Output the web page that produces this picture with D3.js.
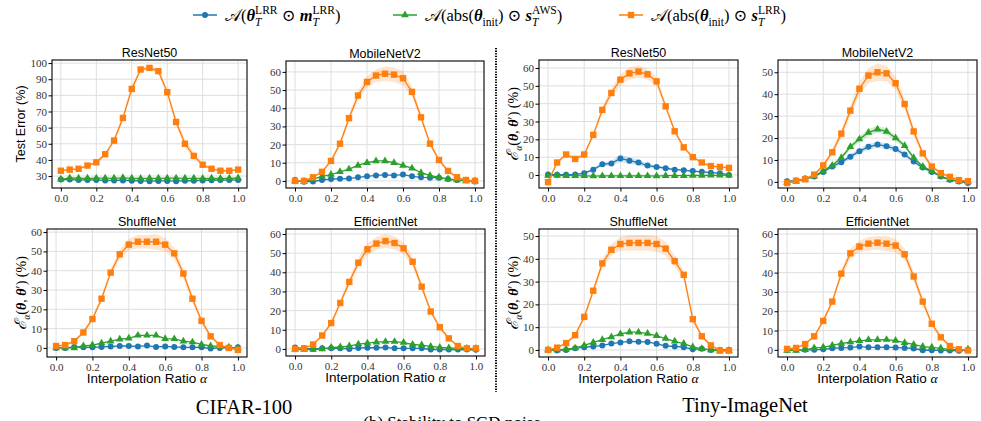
<!DOCTYPE html>
<html>
<head>
<meta charset="utf-8">
<script src="https://cdn.jsdelivr.net/npm/d3@7"></script>
<style>
  body { margin: 0; background: #fff; }
</style>
</head>
<body>
<svg id="fig" width="981" height="421"></svg>
<script>
// interpolation ratios on the x axis
const ratio = [0, 0.05, 0.1, 0.15, 0.2, 0.25, 0.3, 0.35, 0.4, 0.45, 0.5, 0.55, 0.6, 0.65, 0.7, 0.75, 0.8, 0.85, 0.9, 0.95, 1]

// CIFAR-100
const c100ResNet50 = {
  lrr:  [27.8, 27.8, 27.6, 27.6, 27.6, 27.2, 27.3, 27.3, 27.1, 27.0, 26.8, 27.0, 27.0, 26.8, 27.1, 27.1, 27.3, 27.4, 27.5, 27.5, 27.6],
  aws:  [28.0, 28.8, 28.7, 28.6, 28.7, 28.7, 28.6, 28.9, 28.6, 28.5, 28.6, 28.6, 28.7, 28.7, 28.6, 28.6, 28.5, 28.6, 28.5, 28.6, 28.8],
  swap: [33.3, 34, 34.5, 36.5, 38.5, 43.5, 52, 66, 84, 96, 97, 95, 82, 63.5, 50, 42.5, 37, 34.5, 33.3, 33.3, 34],
  swapBand: [0.5, 0.5, 0.5, 0.8, 1, 1.2, 1.5, 2, 2.5, 1.5, 1, 1.5, 2, 2.5, 2.5, 2, 1, 0.8, 0.5, 0.5, 0.5]
}
const c100MobileNetV2 = {
  lrr:  [0.5, -0.5, -0.3, 0.5, 1, 1.2, 1.3, 2, 2.5, 3, 3.3, 3, 3.5, 2.5, 2, 1.8, 1.8, 1, 0.5, 0.3, -0.3],
  aws:  [0, -0.3, 1, 2.5, 3.5, 5, 6.5, 8.5, 10, 11, 11, 10, 8.5, 7, 4.5, 3, 2, 1, 0.5, 0, 0],
  swap: [0, 0, 2, 5, 11, 20.5, 34.5, 47, 54.5, 58, 59, 58.5, 56.5, 49, 35, 20.5, 11.5, 5.5, 2, 0.5, 0],
  swapBand: [0.3, 0.3, 0.5, 0.8, 1, 1.5, 2, 2.5, 3, 3.5, 4, 4, 4, 3, 2, 1.5, 1, 0.8, 0.5, 0.3, 0.3]
}
const c100ShuffleNet = {
  lrr:  [0, 0, 0.5, 0.3, 0.3, 0.5, 0.8, 1, 1, 0.8, 1.2, 0.5, 0.8, 0.5, 0.3, 0.3, 0.3, -0.3, 0, 0, 0.3],
  aws:  [0, 0, 0, 1, 1.5, 2.5, 3.5, 4.5, 5, 6.5, 6.5, 6.5, 4.8, 4.7, 3.5, 3, 1.8, 1, 0.8, 0.3, 0],
  swap: [1, 1.5, 3.5, 8, 15, 25.5, 39, 48.5, 53.5, 55, 55, 55, 53.5, 49, 38.5, 25.5, 14, 6, 1.5, 0, -1],
  swapBand: [0.5, 0.5, 0.8, 1, 1.2, 1.5, 2, 2.5, 3, 3.5, 3.5, 4, 3.5, 3, 2.5, 2, 1.5, 1, 0.5, 0.5, 0.5]
}
const c100EfficientNet = {
  lrr:  [0.7, 0.3, 0, 0.3, 0.3, 0.3, 0, 0.5, 0.6, 0.6, 0.8, 0.3, 0.3, 0.3, 0.3, -0.3, -0.3, -0.3, -0.3, -0.3, -0.5],
  aws:  [-0.3, -0.3, -0.3, 0, 0.7, 1, 1.5, 2.5, 3, 3.5, 3.8, 3.8, 3.3, 2.3, 2, 1.3, 0.8, 0.5, 0.3, 0.2, 0.2],
  swap: [0, 0.3, 2.3, 7, 13.5, 24, 35, 45, 52, 55, 56.3, 55.3, 52.5, 45.5, 32.5, 19.5, 11.3, 5.5, 1.5, 0.3, 0.3],
  swapBand: [0.3, 0.3, 0.5, 0.8, 1, 1.5, 2, 2.5, 3, 3.5, 3.5, 3.5, 3, 2.5, 2, 1.5, 1, 0.8, 0.5, 0.3, 0.3]
}

// Tiny-ImageNet
const tinResNet50 = {
  lrr:  [0.3, 0.2, 0.2, 0.3, 1, 3, 6, 6.5, 9.3, 8, 7, 5.3, 4.5, 3.8, 3, 2.7, 2.2, 1.8, 1.3, 1, 0],
  aws:  [-0.3, -0.3, -0.4, -0.4, -0.5, -0.6, -0.5, -0.5, -0.5, -0.5, -0.5, -0.5, -0.6, -0.4, -0.4, -0.4, -0.3, -0.3, -0.2, -0.2, -0.1],
  swap: [-4, 7, 11.5, 9, 11.5, 22.5, 36.5, 46, 53.5, 57, 58, 56.5, 52.5, 38.5, 24.5, 15.5, 10, 7, 5, 4.5, 4],
  swapBand: [0.5, 0.8, 1, 1, 1, 1.5, 2, 2.5, 3, 3.5, 3.5, 3, 2.5, 2, 1.5, 1, 1, 0.8, 0.5, 0.5, 0.5],
  lrrBand: [0.3, 0.3, 0.3, 0.3, 0.5, 0.8, 1, 1.3, 2, 1.8, 1.5, 1.2, 1, 0.8, 0.7, 0.6, 0.5, 0.5, 0.4, 0.4, 0.3]
}
const tinMobileNetV2 = {
  lrr:  [0.3, 0.5, 1.5, 2.5, 4.5, 7, 9, 11.5, 14, 16, 17, 16.3, 15, 12.5, 9.3, 6.5, 4.5, 2.5, 1, 0.2, -0.5],
  aws:  [-0.3, 0.3, 1.2, 2.5, 5, 7.5, 11, 16, 19.5, 22.5, 24, 23, 20, 16.5, 11, 7, 5, 2.5, 1, 0.3, 0],
  swap: [-0.5, 0.5, 1.2, 3.3, 7.5, 13.5, 22, 32.5, 42.5, 48.5, 50, 49.5, 45, 35.5, 23, 13, 7, 4, 2.3, 0.8, 0.3],
  swapBand: [0.3, 0.3, 0.5, 0.8, 1, 1.5, 2, 2.5, 3, 3.5, 4, 3.5, 3, 2.5, 2, 1.5, 1, 0.8, 0.5, 0.3, 0.3],
  lrrBand: [0.3, 0.3, 0.4, 0.5, 0.6, 0.8, 1, 1.1, 1.2, 1.3, 1.4, 1.3, 1.2, 1, 0.8, 0.7, 0.5, 0.4, 0.3, 0.3, 0.3],
  awsBand: [0.3, 0.3, 0.4, 0.5, 0.6, 0.8, 1, 1.2, 1.4, 1.6, 1.6, 1.5, 1.3, 1.1, 0.9, 0.7, 0.5, 0.4, 0.3, 0.3, 0.3]
}
const tinShuffleNet = {
  lrr:  [0, -0.2, 0, 0.7, 1.2, 1.5, 2, 2.8, 3.3, 3.8, 3.6, 3.5, 2.7, 1.8, 1.5, 1.2, 0.3, 0.5, 0, 0, 0],
  aws:  [0, 0, 0.3, 0.8, 2, 3.3, 4.5, 5.7, 7, 7.8, 7.8, 7.2, 6.2, 5, 3.8, 2.8, 1.3, 0.5, 0, -0.5, -0.3],
  swap: [0, 1, 3, 6.5, 14.5, 26, 38, 44, 46.5, 47, 47, 47, 46.5, 44.5, 39, 33, 13.5, 6, 2, -0.3, -0.3],
  swapBand: [0.3, 0.3, 0.5, 0.8, 1, 1.5, 2, 2.5, 3, 3.5, 3.5, 3.5, 3.5, 3, 2.5, 2, 1.5, 1, 0.5, 0.3, 0.3]
}
const tinEfficientNet = {
  lrr:  [0, 0, 0, 0, 0.3, 0.8, 1, 1.2, 1.7, 1.3, 1.3, 1.4, 1.2, 1, 0.7, -0.2, -0.2, -0.3, -0.3, -0.5, 0],
  aws:  [-0.3, -0.3, 0, 1, 1.3, 2.3, 3.3, 4, 4.7, 5.2, 5.2, 5.3, 4.8, 3.7, 2.8, 1.7, 1.3, 0.8, 0.3, 0, 0.3],
  swap: [0.5, 1, 3, 7, 15, 25, 39.5, 50, 53.5, 55, 55.5, 55, 54, 49.5, 38, 25, 13.5, 6.5, 2, 0.3, -0.3],
  swapBand: [0.3, 0.5, 0.5, 0.8, 1, 1.5, 2, 2.5, 3, 3.5, 3.5, 4, 3.5, 3, 2.5, 2, 1.5, 1, 0.5, 0.3, 0.3]
}

const xTicks = [0, 0.2, 0.4, 0.6, 0.8, 1.0]
const colors = { lrr: '#1f77b4', aws: '#2ca02c', swap: '#ff7f0e' }

const serif = "'Liberation Serif', 'DejaVu Serif', serif"
const sans = "'Liberation Sans', 'DejaVu Sans', sans-serif"

const svg = d3.select('#fig')

// write a row of text pieces with sub/superscripts, returns total width
function mathText(g, x, y, parts, base) {
  let cx = x, prevStart = x, prevEnd = x
  parts.forEach(p => {
    const small = p.sub || p.sup
    const size = small ? base * 0.7 : base * (p.scale || 1)
    const dy = p.sub ? base * 0.28 : p.sup ? -base * 0.42 : 0
    const px = p.stack ? prevStart : cx
    const t = g.append('text')
      .attr('x', px)
      .attr('y', y + dy)
      .style('font-family', p.sans ? sans : (p.font || serif))
      .style('font-size', size + 'px')
      .style('font-style', p.it ? 'italic' : 'normal')
      .style('font-weight', p.bf ? 'bold' : 'normal')
      .attr('xml:space', 'preserve')
      .text(p.s)
    const w = t.node().getComputedTextLength()
    if (p.stack) {
      cx = Math.max(prevEnd, px + w)
    } else {
      prevStart = px
      cx = px + w
    }
    prevEnd = cx
  })
  return cx - x
}

const epsLabel = [
  { s: 'ℰ', it: true, scale: 1.15 },
  { s: 'α', it: true, sub: true },
  { s: '(' },
  { s: 'θ', it: true, bf: true },
  { s: ', ' },
  { s: 'θ', it: true, bf: true },
  { s: '′' },
  { s: ') (%)' }
]

// panel layout: [x0, x1, y0, y1]
const layout = [
  { data: c100ResNet50,    title: 'ResNet50',    box: [52, 247, 60, 188],  dom: [22.6, 101.9], ticks: [30, 40, 50, 60, 70, 80, 90, 100], ylab: 'test', xlab: false },
  { data: c100MobileNetV2, title: 'MobileNetV2', box: [286, 484, 61, 188], dom: [-3.9, 66],    ticks: [0, 10, 20, 30, 40, 50, 60], ylab: null, xlab: false },
  { data: tinResNet50,     title: 'ResNet50',    box: [539, 738, 60, 188], dom: [-7.3, 64.5],  ticks: [0, 10, 20, 30, 40, 50, 60], ylab: 'eps', xlab: false },
  { data: tinMobileNetV2,  title: 'MobileNetV2', box: [778, 977, 60, 188], dom: [-2.8, 55.6],  ticks: [0, 10, 20, 30, 40, 50], ylab: null, xlab: false },
  { data: c100ShuffleNet,  title: 'ShuffleNet',  box: [47, 247, 229, 357], dom: [-4.7, 61.6],  ticks: [0, 10, 20, 30, 40, 50, 60], ylab: 'eps', xlab: true },
  { data: c100EfficientNet,title: 'EfficientNet',box: [286, 485, 229, 356],dom: [-3.7, 62.6],  ticks: [0, 10, 20, 30, 40, 50, 60], ylab: null, xlab: true },
  { data: tinShuffleNet,   title: 'ShuffleNet',  box: [539, 738, 229, 357],dom: [-3.1, 53.1],  ticks: [0, 10, 20, 30, 40, 50], ylab: 'eps', xlab: true },
  { data: tinEfficientNet, title: 'EfficientNet',box: [778, 977, 229, 357],dom: [-3.7, 62.6],  ticks: [0, 10, 20, 30, 40, 50, 60], ylab: null, xlab: true }
]

function marker(sel, kind, color) {
  if (kind === 'lrr') {
    sel.append('circle').attr('r', 3).attr('fill', color)
  } else if (kind === 'aws') {
    sel.append('path').attr('d', d3.symbol(d3.symbolTriangle, 26)()).attr('fill', color)
  } else {
    sel.append('rect').attr('x', -3.2).attr('y', -3.2).attr('width', 6.4).attr('height', 6.4).attr('fill', color)
  }
}

layout.forEach(p => {
  const [x0, x1, y0, y1] = p.box
  const x = d3.scaleLinear().domain([-0.05, 1.05]).range([x0, x1])
  const y = d3.scaleLinear().domain(p.dom).range([y1, y0])
  const g = svg.append('g')

  // grid
  g.append('g').selectAll('line').data(xTicks).enter().append('line')
    .attr('x1', d => x(d)).attr('x2', d => x(d)).attr('y1', y0).attr('y2', y1)
    .attr('stroke', '#dedede').attr('stroke-width', 1)
  g.append('g').selectAll('line').data(p.ticks).enter().append('line')
    .attr('x1', x0).attr('x2', x1).attr('y1', d => y(d)).attr('y2', d => y(d))
    .attr('stroke', '#dedede').attr('stroke-width', 1)

  const clipId = 'clip' + x0 + '_' + y0
  svg.append('clipPath').attr('id', clipId).append('rect')
    .attr('x', x0).attr('y', y0).attr('width', x1 - x0).attr('height', y1 - y0)
  const plot = g.append('g').attr('clip-path', `url(#${clipId})`)

  ;['lrr', 'aws', 'swap'].forEach(k => {
    const vals = p.data[k]
    const band = p.data[k + 'Band']
    if (band) {
      const area = d3.area()
        .x((d, i) => x(ratio[i]))
        .y0((d, i) => y(d - band[i]))
        .y1((d, i) => y(d + band[i]))
      plot.append('path').datum(vals).attr('d', area)
        .attr('fill', colors[k]).attr('fill-opacity', 0.2)
    }
    const line = d3.line().x((d, i) => x(ratio[i])).y(d => y(d))
    plot.append('path').datum(vals).attr('d', line)
      .attr('fill', 'none').attr('stroke', colors[k]).attr('stroke-width', 1.3)
    plot.append('g').selectAll('g').data(vals).enter().append('g')
      .attr('transform', (d, i) => `translate(${x(ratio[i])},${y(d)})`)
      .each(function () { marker(d3.select(this), k, colors[k]) })
  })

  // frame
  g.append('rect').attr('x', x0).attr('y', y0).attr('width', x1 - x0).attr('height', y1 - y0)
    .attr('fill', 'none').attr('stroke', '#000').attr('stroke-width', 1.1)

  const xAxis = g.append('g').attr('transform', `translate(0,${y1})`)
    .call(d3.axisBottom(x).tickValues(xTicks).tickFormat(d3.format('.1f')).tickSize(3.5).tickPadding(2.5))
  const yAxis = g.append('g').attr('transform', `translate(${x0},0)`)
    .call(d3.axisLeft(y).tickValues(p.ticks).tickFormat(d3.format('d')).tickSize(3.5).tickPadding(1.5))
  ;[xAxis, yAxis].forEach(a => {
    a.select('.domain').remove()
    a.selectAll('text').style('font-family', serif).style('font-size', '11px').attr('fill', '#333')
    a.selectAll('line').attr('stroke', '#000')
  })

  g.append('text').attr('x', (x0 + x1) / 2).attr('y', y0 - 3.5)
    .attr('text-anchor', 'middle').style('font-family', sans).style('font-size', '12.5px')
    .text(p.title)

  if (p.xlab) {
    const lg = g.append('g')
    const w = mathText(lg, 0, y1 + 26, [
      { s: 'Interpolation Ratio ', sans: true },
      { s: 'α', it: true }
    ], 13.5)
    lg.attr('transform', `translate(${(x0 + x1) / 2 - w / 2},0)`)
  }

  const cy = (y0 + y1) / 2
  if (p.ylab === 'test') {
    g.append('text').attr('transform', `translate(${x0 - 27},${cy}) rotate(-90)`)
      .attr('text-anchor', 'middle').style('font-family', sans).style('font-size', '12.5px')
      .text('Test Error (%)')
  } else if (p.ylab === 'eps') {
    const outer = g.append('g').attr('transform', `translate(${x0 - 21},${cy}) rotate(-90)`)
    const inner = outer.append('g')
    const w = mathText(inner, 0, 0, epsLabel, 14)
    inner.attr('transform', `translate(${-w / 2},0)`)
  }
})

// legend
const legendItems = [
  { key: 'lrr', x: 193, parts: [
    { s: '𝒜' }, { s: '(' }, { s: 'θ', it: true, bf: true }, { s: 'LRR', sup: true }, { s: 'T', sub: true, it: true, stack: true },
    { s: ' ⊙ ' }, { s: 'm', it: true, bf: true }, { s: 'LRR', sup: true }, { s: 'T', sub: true, it: true, stack: true }, { s: ')' }
  ] },
  { key: 'aws', x: 393, parts: [
    { s: '𝒜' }, { s: '(abs(' }, { s: 'θ', it: true, bf: true }, { s: 'init', sub: true }, { s: ')' },
    { s: ' ⊙ ' }, { s: 's', it: true, bf: true }, { s: 'AWS', sup: true }, { s: 'T', sub: true, it: true, stack: true }, { s: ')' }
  ] },
  { key: 'swap', x: 619, parts: [
    { s: '𝒜' }, { s: '(abs(' }, { s: 'θ', it: true, bf: true }, { s: 'init', sub: true }, { s: ')' },
    { s: ' ⊙ ' }, { s: 's', it: true, bf: true }, { s: 'LRR', sup: true }, { s: 'T', sub: true, it: true, stack: true }, { s: ')' }
  ] }
]
legendItems.forEach(it => {
  const lg = svg.append('g')
  lg.append('line').attr('x1', it.x).attr('x2', it.x + 24).attr('y1', 15).attr('y2', 15)
    .attr('stroke', colors[it.key]).attr('stroke-width', 1.5)
  const m = lg.append('g').attr('transform', `translate(${it.x + 12},15)`)
  marker(m, it.key, colors[it.key])
  mathText(lg, it.x + 32, 21, it.parts, 16.5)
})

// separator between the two datasets
svg.append('line').attr('x1', 496).attr('x2', 496).attr('y1', 48).attr('y2', 392)
  .attr('stroke', '#000').attr('stroke-width', 2).attr('stroke-dasharray', '1.3,1.3')

svg.append('text').attr('x', 244).attr('y', 414).attr('text-anchor', 'middle')
  .style('font-family', serif).style('font-size', '20.5px').text('CIFAR-100')
svg.append('text').attr('x', 745).attr('y', 412).attr('text-anchor', 'middle')
  .style('font-family', serif).style('font-size', '20.5px').text('Tiny-ImageNet')
svg.append('text').attr('x', 452).attr('y', 428).attr('text-anchor', 'middle')
  .style('font-family', serif).style('font-size', '17px').text('(b) Stability to SGD noise')
</script>
</body>
</html>
